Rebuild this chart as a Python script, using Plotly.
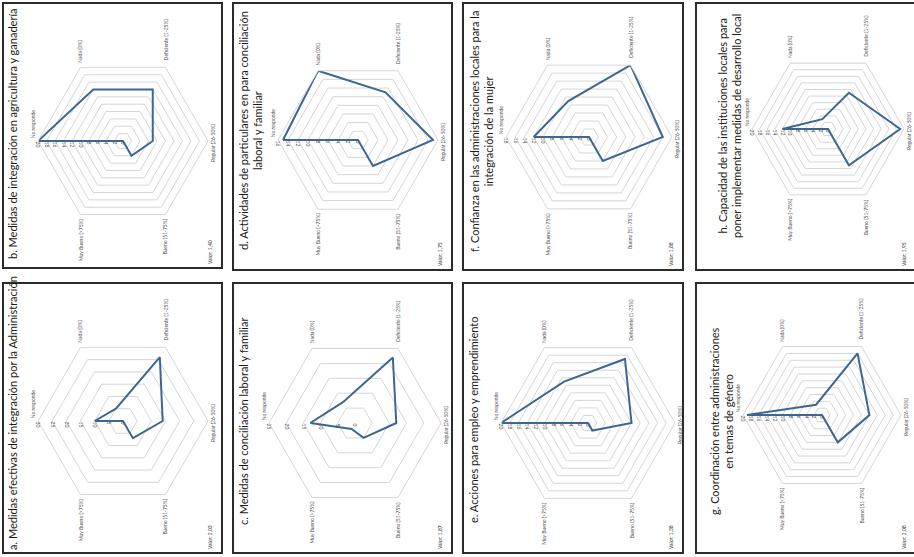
import math
import plotly.graph_objects as go

# categorias del radar (mismo orden en todos los paneles)
categories = ["No responde", "Nada (0%)", "Deficiente (1-25%)", "Regular (26-50%)",
              "Bueno (51-75%)", "Muy Bueno (>75%)"]

vals_a = [10, 5, 26, 14, 7, 0]
vals_b = [20, 14, 14, 7, 4, 0]
vals_c = [13, 7, 22, 12, 5, 2]
vals_d = [15, 16, 11, 15, 6, 0]
vals_e = [20, 11, 17, 10, 2, 0]
vals_f = [12, 9, 18, 16, 6, 0]
vals_g = [19, 3, 18, 12, 8, 0]
vals_h = [12, 3, 11, 19, 11, 0]

# maximo y paso del eje radial
axis_max = {"a": 30, "b": 20, "c": 25, "d": 16, "e": 20, "f": 18, "g": 20, "h": 20}
axis_step = {"a": 5, "b": 2, "c": 5, "d": 2, "e": 2, "f": 2, "g": 2, "h": 2}

titles = {
    "a": "a. Medidas efectivas de integración por la Administración",
    "b": "b. Medidas de integración en agricultura y ganadería",
    "c": "c. Medidas de conciliación laboral y familiar",
    "d": "d. Actividades de particulares en para conciliación<br>laboral y familiar",
    "e": "e. Acciones para empleo y emprendimiento",
    "f": "f. Confianza en las administraciones locales para la<br>integración de la mujer",
    "g": "g. Coordinación entre administraciones<br>en temas de género",
    "h": "h. Capacidad de las instituciones locales para<br>poner implementar medidas de desarrollo local",
}
valor = {"a": "Valor: 2,03", "b": "Valor: 1,40", "c": "Valor: 1,87", "d": "Valor: 1,75",
         "e": "Valor: 1,38", "f": "Valor: 1,88", "g": "Valor: 2,08", "h": "Valor: 1,95"}

values = {"a": vals_a, "b": vals_b, "c": vals_c, "d": vals_d,
          "e": vals_e, "f": vals_f, "g": vals_g, "h": vals_h}

# ---- disposicion (pixeles) ----
W, H = 914, 557
boxes = {
    "b": (3, 3, 222, 268), "d": (233, 3, 452, 270), "f": (463, 3, 683, 270), "h": (696, 3, 916, 270),
    "a": (3, 283, 222, 553), "c": (233, 283, 452, 553), "e": (463, 283, 683, 553), "g": (696, 283, 916, 553),
}
# centro y radio de cada radar
radar = {
    "b": (123, 141, 85), "d": (358, 140, 80), "f": (589, 137, 83), "h": (828, 129, 76),
    "a": (123, 421, 85), "c": (355, 423, 86), "e": (588, 423, 87), "g": (822, 415, 79),
}
title_pos = {
    "b": (12, 134), "a": (12, 413), "d": (251, 131), "c": (243, 421),
    "f": (482, 132), "e": (473, 420), "h": (729, 126), "g": (721, 421),
}

LINE = "#3d6791"
GRID = "#d6d6d6"
FONT = "Lato"

def px(x):
    return x / W

def py(y):
    return 1 - y / H

def note(x, y, text, size, color, align="center"):
    return dict(x=px(x), y=py(y), xref="paper", yref="paper", text=text,
                textangle=-90, showarrow=False, xanchor="center", yanchor="middle",
                align=align, font=dict(size=size, color=color, family=FONT))

fig = go.Figure()
shapes = []
annotations = []

for i, key in enumerate(["a", "b", "c", "d", "e", "f", "g", "h"]):
    name = "polar" if i == 0 else "polar%d" % (i + 1)
    vals = values[key]
    fig.add_trace(go.Scatterpolar(
        r=vals + [vals[0]], theta=categories + [categories[0]],
        mode="lines", line=dict(color=LINE, width=2),
        subplot=name, showlegend=False, hoverinfo="r+theta"))

    cx, cy, rr = radar[key]
    mx = axis_max[key]
    fig.update_layout(**{name: dict(
        domain=dict(x=[px(cx - rr), px(cx + rr)], y=[py(cy + rr), py(cy - rr)]),
        gridshape="linear", bgcolor="white",
        angularaxis=dict(rotation=180, direction="clockwise", showticklabels=False,
                         ticks="", showgrid=False, linecolor=GRID, linewidth=1),
        radialaxis=dict(range=[0, mx], dtick=axis_step[key], angle=180, tickangle=-90,
                        side="counterclockwise", showline=False, ticks="",
                        gridcolor=GRID, gridwidth=1,
                        tickfont=dict(size=5, color="#555555", family=FONT)),
    )})

    # etiquetas de categorias (giradas)
    for k, cat in enumerate(categories):
        th = math.radians(180 - 60 * k)
        half = len(cat) * 5 * 0.5 / 2
        vx = cx + rr * math.cos(th)
        vy = cy - rr * math.sin(th)
        if k == 0:
            lx, ly = vx - 5, vy - half - 3
        elif k == 3:
            lx, ly = vx + 5, vy + 2
        elif k in (1, 2):
            lx, ly = vx, vy - half - 5
        else:
            lx, ly = vx, vy + half + 5
        annotations.append(note(lx, ly, cat, 5, "#555555"))

    x0, y0, x1, y1 = boxes[key]
    shapes.append(dict(type="rect", xref="paper", yref="paper", x0=px(x0), x1=px(x1),
                       y0=py(y1), y1=py(y0), line=dict(color="#2b2b2b", width=2)))
    tx, ty = title_pos[key]
    annotations.append(note(tx, ty, titles[key], 11, "#1a1a1a"))
    annotations.append(note(x1 - 12, y1 - 16, valor[key], 5, "#333333"))

fig.update_layout(width=W, height=H, margin=dict(l=0, r=0, t=0, b=0),
                  paper_bgcolor="white", plot_bgcolor="white",
                  shapes=shapes, annotations=annotations)

fig.write_html("out.html", config={"displayModeBar": False},
               post_script="document.body.style.margin='0';")
